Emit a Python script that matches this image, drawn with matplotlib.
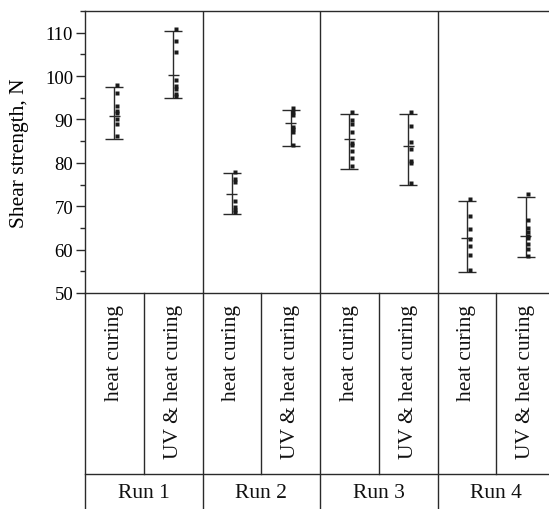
import numpy as np
import matplotlib
matplotlib.use('Agg')
import matplotlib.pyplot as plt
from matplotlib.ticker import MultipleLocator

plt.rcParams['font.family'] = ['Liberation Serif', 'DejaVu Serif']

runs = ['Run 1', 'Run 2', 'Run 3', 'Run 4']
treatments = ['heat curing', 'UV & heat curing']

# per group, order: R1 heat, R1 UV, R2 heat, R2 UV, R3 heat, R3 UV, R4 heat, R4 UV
means = [90.9, 100.3, 72.8, 89.2, 85.5, 83.8, 62.7, 63.1]
lows = [85.5, 94.9, 68.2, 83.8, 78.6, 74.8, 54.8, 58.2]
highs = [97.5, 110.5, 77.6, 92.1, 91.3, 91.3, 71.1, 72.2]

points = [
  [98.0, 96.2, 93.0, 91.9, 91.5, 90.2, 89.0, 86.1],
  [110.9, 108.1, 105.5, 99.2, 97.6, 97.1, 95.9, 95.5],
  [78.0, 76.3, 75.5, 71.3, 69.8, 69.2, 68.6],
  [92.6, 91.7, 91.1, 88.2, 87.7, 87.2, 84.2],
  [91.8, 89.8, 89.0, 87.2, 84.6, 84.0, 82.8, 81.1, 79.2],
  [91.8, 88.6, 84.8, 83.1, 80.5, 80.0, 75.3],
  [71.7, 67.8, 64.8, 62.5, 60.9, 58.8, 55.4],
  [72.8, 66.9, 64.9, 64.0, 63.2, 62.6, 61.3, 60.2, 58.6],
]

W, H = 549, 510
col = '#2a2a2a'
lw = 1.0

fig = plt.figure(figsize=(W/100, H/100), dpi=100)

left, right, top, mid, bot = 85, 555, 12, 294, 520
ax = fig.add_axes([left/W, 1-mid/H, (right-left)/W, (mid-top)/H])

ngroups = len(means)
x = np.arange(ngroups) + 0.5
ax.errorbar(x, means, yerr=[np.array(means)-np.array(lows), np.array(highs)-np.array(means)],
            fmt='none', ecolor=col, elinewidth=lw, capsize=6.5, capthick=lw)
ax.hlines(means, x-0.095, x+0.095, color=col, lw=lw)
for i, pts in enumerate(points):
  ax.plot([x[i]+0.045]*len(pts), pts, ls='none', marker='s', ms=2.6, color='#1a1a1a', mec='none')

for r in range(1, len(runs)):
  ax.axvline(2*r, color=col, lw=lw)

ax.set_xlim(0, ngroups)
ax.set_ylim(50, 115)
ax.set_xticks([])
ax.yaxis.set_major_locator(MultipleLocator(10))
ax.yaxis.set_minor_locator(MultipleLocator(5))
ax.tick_params(axis='y', which='major', length=6.5, width=lw, color=col, labelsize=13.5, pad=2)
ax.tick_params(axis='y', which='minor', length=3.6, width=lw, color=col)
for s in ax.spines.values():
  s.set_color(col)
  s.set_linewidth(lw)
ax.set_ylabel('Shear strength, N', fontsize=15.5)
ax.yaxis.set_label_coords((29-left)/(right-left), 0.5)

# category table below the plot
tab = fig.add_axes([left/W, 1-bot/H, (right-left)/W, (bot-mid)/H])
tab.set_xlim(0, ngroups)
tab.set_ylim(bot, mid)
tab.axis('off')
for i in range(ngroups+1):
  if i % 2 == 0:
    tab.plot([i, i], [mid, bot], color=col, lw=lw, clip_on=False)
  else:
    tab.plot([i, i], [mid, 475], color=col, lw=lw, clip_on=False)
tab.plot([0, ngroups], [475, 475], color=col, lw=lw, clip_on=False)
for i in range(ngroups):
  tab.text(i+0.5, 305, treatments[i % 2], rotation=90, ha='center', va='top', fontsize=15.5, color='#111111')
for r, name in enumerate(runs):
  tab.text(2*r+1, 494, name, ha='center', va='center', fontsize=15.5, color='#111111')

fig.savefig('out.png', dpi=100)
